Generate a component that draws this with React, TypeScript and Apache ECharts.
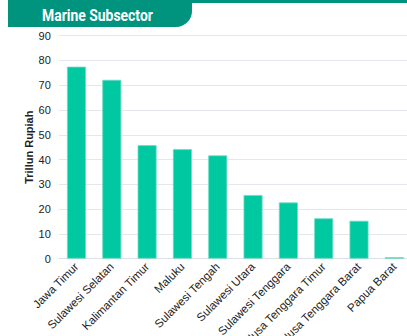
import React, { useEffect, useRef } from "react";
import * as echarts from "echarts";

const categories = [
  "Jawa Timur",
  "Sulawesi Selatan",
  "Kalimantan Timur",
  "Maluku",
  "Sulawesi Tengah",
  "Sulawesi Utara",
  "Sulawesi Tenggara",
  "Nusa Tenggara Timur",
  "Nusa Tenggara Barat",
  "Papua Barat",
];
const values = [77.5, 72.2, 45.8, 44.2, 41.7, 25.7, 22.7, 16.3, 15.3, 0.6];
const yTicks = { min: 0, max: 90, interval: 10 };
const title = "Marine Subsector";
const yAxisName = "Trillun Rupiah";

export default function App() {
  const ref = useRef<HTMLDivElement>(null);
  useEffect(() => {
    if (!ref.current) return;
    const chart = echarts.init(ref.current, undefined, { renderer: "svg" });
    chart.setOption({
      animation: false,
      grid: {
        left: 58.8,
        right: -5,
        top: 35.7,
        bottom: 77.3,
        containLabel: false,
        outerBoundsMode: "none",
      },
      graphic: [
        {
          type: "rect",
          shape: { x: 8, y: 0, width: 399, height: 3 },
          style: { fill: "#00937e" },
        },
        {
          type: "rect",
          shape: { x: 8, y: 0, width: 184, height: 27, r: [0, 0, 16, 0] },
          style: { fill: "#00937e" },
        },
        {
          type: "text",
          x: 42,
          y: 16,
          scaleX: 0.82,
          style: {
            text: title,
            fill: "#ffffff",
            font: "bold 17px Roboto, 'Liberation Sans', sans-serif",
            textVerticalAlign: "middle",
            verticalAlign: "middle",
          },
        },
      ],
      xAxis: {
        type: "category",
        data: categories,
        axisTick: { show: false },
        axisLine: { lineStyle: { color: "#dcdfe6", width: 1 } },
        axisLabel: {
          rotate: 45,
          interval: 0,
          color: "#222",
          fontSize: 11.5,
          fontFamily: "'Liberation Sans', Arial, sans-serif",
          margin: 6,
        },
      },
      yAxis: {
        type: "value",
        min: yTicks.min,
        max: yTicks.max,
        interval: yTicks.interval,
        name: yAxisName,
        nameLocation: "middle",
        nameGap: 24,
        nameMoveOverlap: false,
        nameTextStyle: {
          fontWeight: "bold",
          fontSize: 11,
          color: "#222",
          fontFamily: "'Liberation Sans', Arial, sans-serif",
        },
        axisLabel: {
          color: "#222",
          fontSize: 11,
          fontFamily: "'Liberation Sans', Arial, sans-serif",
          margin: 8,
        },
        splitLine: { lineStyle: { color: "#e4e7ed", width: 1 } },
        axisLine: { show: false },
        axisTick: { show: false },
      },
      series: [
        {
          type: "bar",
          data: values,
          barWidth: 19,
          itemStyle: { color: "#00c8a0", borderColor: "#6fdcc4", borderWidth: 0.8 },
        },
      ],
    });
    return () => chart.dispose();
  }, []);
  return (
    <div
      ref={ref}
      style={{ position: "fixed", left: 0, top: 0, width: 407, height: 336, background: "#fff" }}
    />
  );
}
